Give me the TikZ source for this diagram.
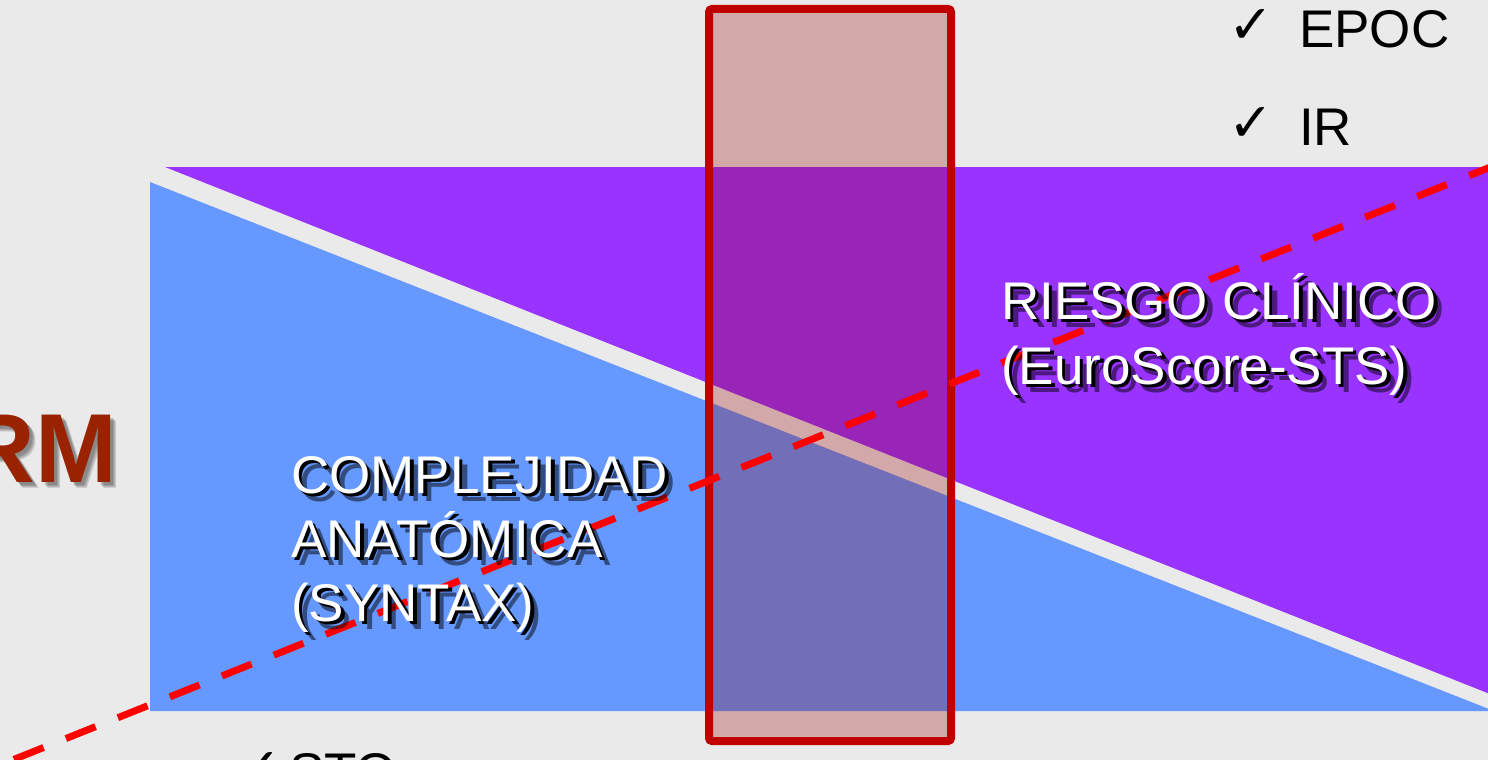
\documentclass[tikz,border=0pt]{standalone}
\usepackage{fontspec}
\setmainfont{Liberation Sans}
\newfontfamily\symfont{DejaVu Sans}
\definecolor{bgGray}{RGB}{234,234,234}
\definecolor{anatBlue}{RGB}{102,153,255}
\definecolor{riskPurple}{RGB}{153,51,255}
\definecolor{boxRed}{RGB}{192,0,0}
\definecolor{boxFill}{RGB}{150,0,0}
\definecolor{lineRed}{RGB}{255,0,0}
\definecolor{titleRed}{RGB}{153,34,0}
\newcommand\shadowlabel[3]{%
  \node[labelshadow, opacity=0.5, xshift=4.5pt, yshift=-4.5pt] (#1t) at (#2) {#3};
  \node[labelshadow] (#1s) at (#2) {#3};
  \node[labeltext] (#1) at (#2) {#3};}
\begin{document}
\begin{tikzpicture}[x=1pt,y=-1pt,
  bigfont/.style={font=\fontsize{53}{64}\selectfont},
  labeltext/.style={bigfont, text=white, inner sep=0pt, anchor=base west},
  labelshadow/.style={bigfont, text=black, inner sep=0pt, anchor=base west, xshift=3.5pt, yshift=-3.5pt},
  listtext/.style={bigfont, text=black, inner sep=0pt, anchor=base west},
  checkmark/.style={font=\symfont\bfseries\fontsize{54}{60}\selectfont, text=black, inner sep=0pt, anchor=base west},
  highlightbox/.style={draw=boxRed, line width=8pt, fill=boxFill, fill opacity=0.28, rounded corners=3pt},
  trendline/.style={draw=lineRed, line width=7pt, dash pattern=on 32pt off 24pt, dash phase=41pt},
  titletext/.style={font=\fontsize{98}{110}\selectfont\bfseries, text=titleRed, inner sep=0pt, anchor=base east}]
  % canvas
  \fill[bgGray] (0,0) rectangle (1488,760);
  \useasboundingbox (0,0) rectangle (1488,760);
  \clip (0,0) rectangle (1488,760);

  % clinical risk and anatomical complexity wedges
  \fill[anatBlue] (150,182) -- (150,711) -- (1494,711) -- cycle;
  \fill[riskPurple] (165,167) -- (1490,167) -- (1490,694) -- cycle;

  % partial title with soft shadow
  \foreach \d in {3,4,5,6}
    \node[titletext, text=black, opacity=0.12, xshift=\d pt, yshift=-\d pt] (titleshadow\d) at (117,482) {RM};
  \node[titletext] (title) at (117,482) {RM};

  % highlighted band
  \draw[highlightbox] (709,9) rectangle (951,741);

  % dashed trend line
  \coordinate (d0) at (0,765);
  \coordinate (d1) at (1500,163.2);
  \draw[trendline] (d0) -- (d1);

  % wedge labels
  \shadowlabel{riskA}{1001,319}{RIESGO CLÍNICO}
  \shadowlabel{riskB}{1001,384}{(EuroScore-STS)}
  \shadowlabel{anatA}{291,493}{COMPLEJIDAD}
  \shadowlabel{anatB}{291,557}{ANATÓMICA}
  \shadowlabel{anatC}{291,621}{(SYNTAX)}

  % checklist
  \node[checkmark] (chk1) at (1228,44) {✓};
  \node[listtext] (epoc) at (1299,48) {EPOC};
  \node[checkmark] (chk2) at (1228,141) {✓};
  \node[listtext] (ir) at (1299,145) {IR};
  \node[checkmark] (chk3) at (236,786) {✓};
  \node[listtext] (sto) at (289,790) {STO};
\end{tikzpicture}
\end{document}
